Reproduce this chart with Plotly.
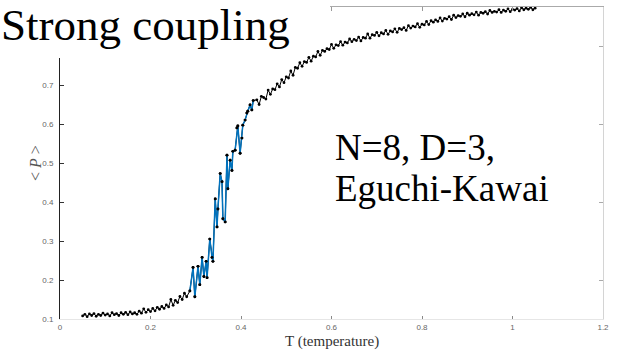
import plotly.graph_objects as go

# ---- data ----
T_low = [0.050, 0.055, 0.060, 0.065, 0.070, 0.075, 0.080, 0.085, 0.090, 0.095,
         0.100, 0.105, 0.110, 0.115, 0.120, 0.125, 0.130, 0.135, 0.140, 0.145,
         0.150, 0.155, 0.160, 0.165, 0.170, 0.175, 0.180, 0.185, 0.190, 0.195,
         0.200, 0.205, 0.210, 0.215, 0.220, 0.225, 0.230, 0.235, 0.240, 0.245,
         0.250, 0.255, 0.260, 0.265, 0.270, 0.275, 0.280]
P_low = [0.108, 0.112, 0.106, 0.113, 0.109, 0.114, 0.107, 0.112, 0.109, 0.115,
         0.110, 0.113, 0.108, 0.116, 0.111, 0.114, 0.109, 0.116, 0.112, 0.117,
         0.111, 0.118, 0.113, 0.116, 0.112, 0.120, 0.115, 0.126, 0.117, 0.124,
         0.119, 0.127, 0.121, 0.130, 0.125, 0.132, 0.127, 0.136, 0.131, 0.150,
         0.135, 0.148, 0.142, 0.158, 0.150, 0.166, 0.157]

T_trans = [0.287, 0.294, 0.298, 0.305, 0.309, 0.314, 0.318, 0.323, 0.325, 0.331,
           0.336, 0.338, 0.343, 0.347, 0.349, 0.354, 0.358, 0.360, 0.365, 0.369,
           0.371, 0.376, 0.380, 0.382, 0.387, 0.391, 0.393, 0.398, 0.402, 0.404,
           0.409, 0.413, 0.415, 0.420, 0.424, 0.427]
P_trans = [0.172, 0.232, 0.157, 0.235, 0.188, 0.258, 0.209, 0.248, 0.206, 0.305,
           0.258, 0.248, 0.408, 0.336, 0.382, 0.473, 0.452, 0.357, 0.349, 0.520,
           0.434, 0.507, 0.481, 0.530, 0.533, 0.590, 0.595, 0.525, 0.564, 0.597,
           0.610, 0.628, 0.633, 0.649, 0.636, 0.660]

T_high = [0.435, 0.440, 0.445, 0.450, 0.455, 0.460, 0.465, 0.470, 0.475, 0.480,
          0.485, 0.490, 0.495, 0.500, 0.505, 0.510, 0.515, 0.520, 0.525, 0.530,
          0.535, 0.540, 0.545, 0.550, 0.555, 0.560, 0.565, 0.570, 0.575, 0.580,
          0.585, 0.590, 0.595, 0.600, 0.605, 0.610, 0.615, 0.620, 0.625, 0.630,
          0.635, 0.640, 0.645, 0.650, 0.655, 0.660, 0.665, 0.670, 0.675, 0.680,
          0.685, 0.690, 0.695, 0.700, 0.705, 0.710, 0.715, 0.720, 0.725, 0.730,
          0.735, 0.740, 0.745, 0.750, 0.755, 0.760, 0.765, 0.770, 0.775, 0.780,
          0.785, 0.790, 0.795, 0.800, 0.805, 0.810, 0.815, 0.820, 0.825, 0.830,
          0.835, 0.840, 0.845, 0.850, 0.855, 0.860, 0.865, 0.870, 0.875, 0.880,
          0.885, 0.890, 0.895, 0.900, 0.905, 0.910, 0.915, 0.920, 0.925, 0.930,
          0.935, 0.940, 0.945, 0.950, 0.955, 0.960, 0.965, 0.970, 0.975, 0.980,
          0.985, 0.990, 0.995, 1.000, 1.005, 1.010, 1.015, 1.020, 1.025, 1.030,
          1.035, 1.040, 1.045, 1.050]
P_high = [0.662, 0.650, 0.671, 0.668, 0.664, 0.687, 0.676, 0.690, 0.688, 0.703,
          0.695, 0.714, 0.706, 0.721, 0.718, 0.736, 0.725, 0.745, 0.743, 0.757,
          0.748, 0.760, 0.758, 0.771, 0.761, 0.774, 0.772, 0.786, 0.776, 0.789,
          0.786, 0.793, 0.791, 0.804, 0.794, 0.803, 0.801, 0.811, 0.802, 0.810,
          0.808, 0.818, 0.811, 0.817, 0.814, 0.823, 0.813, 0.822, 0.820, 0.831,
          0.820, 0.829, 0.827, 0.835, 0.826, 0.834, 0.831, 0.840, 0.830, 0.839,
          0.836, 0.844, 0.835, 0.845, 0.842, 0.847, 0.840, 0.852, 0.846, 0.851,
          0.849, 0.857, 0.848, 0.856, 0.854, 0.863, 0.855, 0.865, 0.861, 0.867,
          0.863, 0.872, 0.864, 0.871, 0.869, 0.875, 0.868, 0.879, 0.873, 0.878,
          0.876, 0.882, 0.875, 0.884, 0.879, 0.883, 0.880, 0.887, 0.879, 0.886,
          0.884, 0.888, 0.882, 0.891, 0.886, 0.889, 0.887, 0.893, 0.886, 0.892,
          0.889, 0.895, 0.888, 0.894, 0.892, 0.896, 0.890, 0.898, 0.893, 0.897,
          0.894, 0.899, 0.893, 0.897]

x_ticks = [0, 0.2, 0.4, 0.6, 0.8, 1.0, 1.2]
x_tick_text = ["0", "0.2", "0.4", "0.6", "0.8", "1", "1.2"]
y_ticks = [0.1, 0.2, 0.3, 0.4, 0.5, 0.6, 0.7]
y_tick_text = ["0.1", "0.2", "0.3", "0.4", "0.5", "0.6", "0.7"]

T_all = T_low + T_trans + T_high
P_all = P_low + P_trans + P_high

# ---- layout geometry (pixels) ----
W, H = 621, 351
ML, MR, MT, MB = 60, 18, 7, 32
PW, PH = W - ML - MR, H - MT - MB


def px(xp):
    return (xp - ML) / PW


def py(yp):
    return (H - MB - yp) / PH


BLUE = "rgb(0,114,189)"
tickfont = dict(family="Liberation Sans", size=8, color="#666")

fig = go.Figure()
fig.add_trace(go.Scatter(x=T_all, y=P_all, mode="lines+markers",
                         line=dict(color="black", width=1),
                         marker=dict(color="black", size=2.8),
                         hoverinfo="skip"))
fig.add_trace(go.Scatter(x=T_trans, y=P_trans, mode="lines",
                         line=dict(color=BLUE, width=1.5), hoverinfo="skip"))
fig.add_trace(go.Scatter(x=T_trans, y=P_trans, mode="markers",
                         marker=dict(color="black", size=2.8), hoverinfo="skip"))
# invisible trace to realise the mirrored (top/right) axes
fig.add_trace(go.Scatter(x=T_all, y=P_all, mode="lines", opacity=0,
                         line=dict(width=0), xaxis="x2", yaxis="y2",
                         hoverinfo="skip"))

white_box = dict(type="rect", xref="paper", yref="paper", layer="above",
                 fillcolor="white", line=dict(width=0))

fig.update_layout(
    width=W, height=H,
    margin=dict(l=ML, r=MR, t=MT, b=MB, pad=0),
    paper_bgcolor="white", plot_bgcolor="white",
    showlegend=False,
    xaxis=dict(range=[0, 1.2], tickvals=x_ticks, ticktext=x_tick_text,
               ticks="inside", ticklen=3, tickcolor="#888",
               showline=True, linecolor="#e6e6e6", linewidth=1,
               showgrid=False, zeroline=False, tickfont=tickfont),
    yaxis=dict(range=[0.1, 0.9], tickvals=y_ticks, ticktext=y_tick_text,
               ticks="inside", ticklen=4, tickcolor="#333",
               showline=True, linecolor="#222", linewidth=1,
               showgrid=False, zeroline=False, tickfont=tickfont,
               ticklabelstandoff=4),
    xaxis2=dict(range=[0, 1.2], overlaying="x", side="top", anchor="y2",
                tickvals=x_ticks, ticks="inside", ticklen=4, tickcolor="#999",
                showticklabels=False, showline=True, linecolor="#aaa",
                showgrid=False, zeroline=False),
    yaxis2=dict(range=[0.1, 0.9], overlaying="y", side="right", anchor="x2",
                tickvals=[0.2, 0.4, 0.6, 0.8], ticks="inside", ticklen=4,
                tickcolor="#aaa", showticklabels=False, showline=True,
                linecolor="#d4d4d4", showgrid=False, zeroline=False),
    shapes=[
        dict(white_box, x0=px(-5), x1=px(200), y0=py(58), y1=py(-5)),
        dict(white_box, x0=px(199), x1=px(330), y0=py(46), y1=py(-5)),
    ],
    annotations=[
        dict(text="Strong coupling", xref="paper", yref="paper",
             x=px(0), y=py(25), xanchor="left", yanchor="middle",
             showarrow=False, borderpad=0,
             font=dict(family="Liberation Serif", size=45, color="black")),
        dict(text="N=8, D=3,", xref="paper", yref="paper",
             x=px(334), y=py(147), xanchor="left", yanchor="middle",
             showarrow=False, borderpad=0,
             font=dict(family="Liberation Serif", size=37, color="black")),
        dict(text="Eguchi-Kawai", xref="paper", yref="paper",
             x=px(334), y=py(189), xanchor="left", yanchor="middle",
             showarrow=False, borderpad=0,
             font=dict(family="Liberation Serif", size=37, color="black")),
        dict(text="T (temperature)", xref="paper", yref="paper",
             x=px(332), y=py(341), xanchor="center", yanchor="middle",
             showarrow=False, borderpad=0,
             font=dict(family="Liberation Serif", size=15, color="#333")),
        dict(text="&lt; <i>P</i> &gt;", xref="paper", yref="paper",
             x=px(35), y=py(163), xanchor="center", yanchor="middle",
             textangle=-90, showarrow=False, borderpad=0,
             font=dict(family="Liberation Serif", size=16, color="#555")),
    ],
)

fig.write_html("out.html")
